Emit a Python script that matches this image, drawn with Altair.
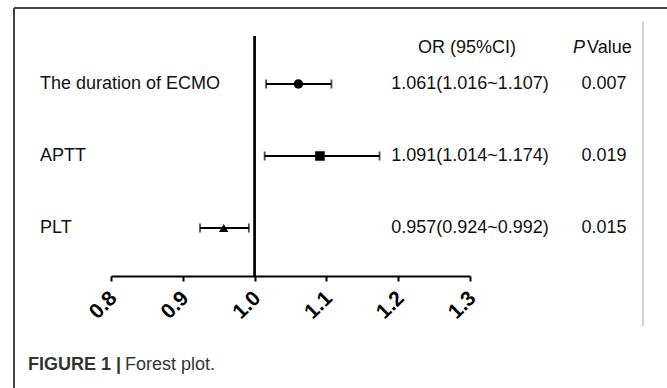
import altair as alt
import pandas as pd

labels = ["The duration of ECMO", "APTT", "PLT"]
or_vals = [1.061, 1.091, 0.957]
ci_low = [1.016, 1.014, 0.924]
ci_high = [1.107, 1.174, 0.992]
ci_text = ["1.061(1.016~1.107)", "1.091(1.014~1.174)", "0.957(0.924~0.992)"]
p_text = ["0.007", "0.019", "0.015"]
shapes = ["circle", "square", "triangle-up"]
ticks = [0.8, 0.9, 1.0, 1.1, 1.2, 1.3]
tick_labels = ["0.8", "0.9", "1.0", "1.1", "1.2", "1.3"]

df = pd.DataFrame({
    "label": labels, "or": or_vals, "lo": ci_low, "hi": ci_high,
    "ci": ci_text, "p": p_text, "shape": shapes,
})
tdf = pd.DataFrame({"v": ticks, "t": tick_labels})

FONT = "Liberation Sans, Arial, sans-serif"

xscale = alt.Scale(domain=[0.8, 1.3], nice=False, zero=False)
xaxis = alt.Axis(values=ticks, labels=False, domainColor="black", domainWidth=2,
                 tickColor="black", tickWidth=2, tickSize=5, grid=False, title=None)
yenc = alt.Y("label:N", sort=labels, scale=alt.Scale(type="point", padding=0.6667), axis=None)

base = alt.Chart(df)

whisk = base.mark_rule(color="black", strokeWidth=1.8).encode(
    x=alt.X("lo:Q", scale=xscale, axis=xaxis),
    x2="hi:Q", y=yenc)

cap_lo = base.mark_tick(color="black", thickness=1.8, size=9).encode(
    x=alt.X("lo:Q", scale=xscale, axis=xaxis), y=yenc)
cap_hi = base.mark_tick(color="black", thickness=1.8, size=9).encode(
    x=alt.X("hi:Q", scale=xscale, axis=xaxis), y=yenc)

pts = base.mark_point(filled=True, size=90, color="black", opacity=1).encode(
    x=alt.X("or:Q", scale=xscale, axis=xaxis), y=yenc, shape=alt.Shape("shape:N", scale=None))

ref = alt.Chart(df).mark_rule(color="black", strokeWidth=2).encode(
    x=alt.X(datum=1.0, scale=xscale, axis=xaxis))

tick_txt = alt.Chart(tdf).mark_text(
    align="right", baseline="middle", angle=315, fontSize=21, fontWeight="bold",
    font=FONT, color="black", dx=4).encode(
    x=alt.X("v:Q", scale=xscale, axis=xaxis), y=alt.value(262), text="t:N")

lab_txt = base.mark_text(align="left", baseline="middle", fontSize=18, font=FONT, color="#111").encode(
    x=alt.value(-71), y=yenc, text="label:N")
ci_txt = base.mark_text(align="center", baseline="middle", fontSize=18, font=FONT, color="#111").encode(
    x=alt.value(359), y=yenc, text="ci:N")
p_txt = base.mark_text(align="center", baseline="middle", fontSize=18, font=FONT, color="#111").encode(
    x=alt.value(493), y=yenc, text="p:N")

hdr = pd.DataFrame({"t": ["OR (95%CI)"]})
hdr_or = alt.Chart(hdr).mark_text(align="center", baseline="middle", fontSize=18, font=FONT, color="#111").encode(
    x=alt.value(356), y=alt.value(12), text="t:N")
hdr_p1 = alt.Chart(pd.DataFrame({"t": ["P"]})).mark_text(
    align="left", baseline="middle", fontSize=18, font=FONT, fontStyle="italic", color="#111").encode(
    x=alt.value(462), y=alt.value(12), text="t:N")
hdr_p2 = alt.Chart(pd.DataFrame({"t": ["Value"]})).mark_text(
    align="left", baseline="middle", fontSize=18, font=FONT, color="#111").encode(
    x=alt.value(476), y=alt.value(12), text="t:N")

cap1 = alt.Chart(pd.DataFrame({"t": ["FIGURE 1 |"]})).mark_text(
    align="left", baseline="middle", fontSize=18, font=FONT, fontWeight="bold", color="#333").encode(
    x=alt.value(-83), y=alt.value(329), text="t:N")
cap2 = alt.Chart(pd.DataFrame({"t": ["Forest plot."]})).mark_text(
    align="left", baseline="middle", fontSize=18, font=FONT, color="#333").encode(
    x=alt.value(14), y=alt.value(329), text="t:N")

frame_top = alt.Chart(hdr).mark_rule(color="#444", strokeWidth=2).encode(
    x=alt.value(-97), x2=alt.value(556), y=alt.value(-28))
frame_left = alt.Chart(hdr).mark_rule(color="#444", strokeWidth=2).encode(
    x=alt.value(-97), y=alt.value(-28), y2=alt.value(352))
frame_right = alt.Chart(hdr).mark_rule(color="#c4c4c4", strokeWidth=1.5).encode(
    x=alt.value(532), y=alt.value(-14), y2=alt.value(290))

chart = alt.layer(
    whisk, frame_top, frame_left, frame_right, ref, cap_lo, cap_hi, pts, tick_txt,
    lab_txt, ci_txt, p_txt, hdr_or, hdr_p1, hdr_p2, cap1, cap2
).properties(
    width=359, height=240,
    autosize=alt.AutoSizeParams(type="none"),
    padding={"left": 111, "top": 36, "right": 197, "bottom": 112},
    background="white",
).configure_view(strokeWidth=0).configure_axisX(
    tickSize=5, tickWidth=2, domainWidth=2, domainColor="black", tickColor="black", grid=False,
)

chart.save("out.html", embed_options={"renderer": "svg", "actions": False})
